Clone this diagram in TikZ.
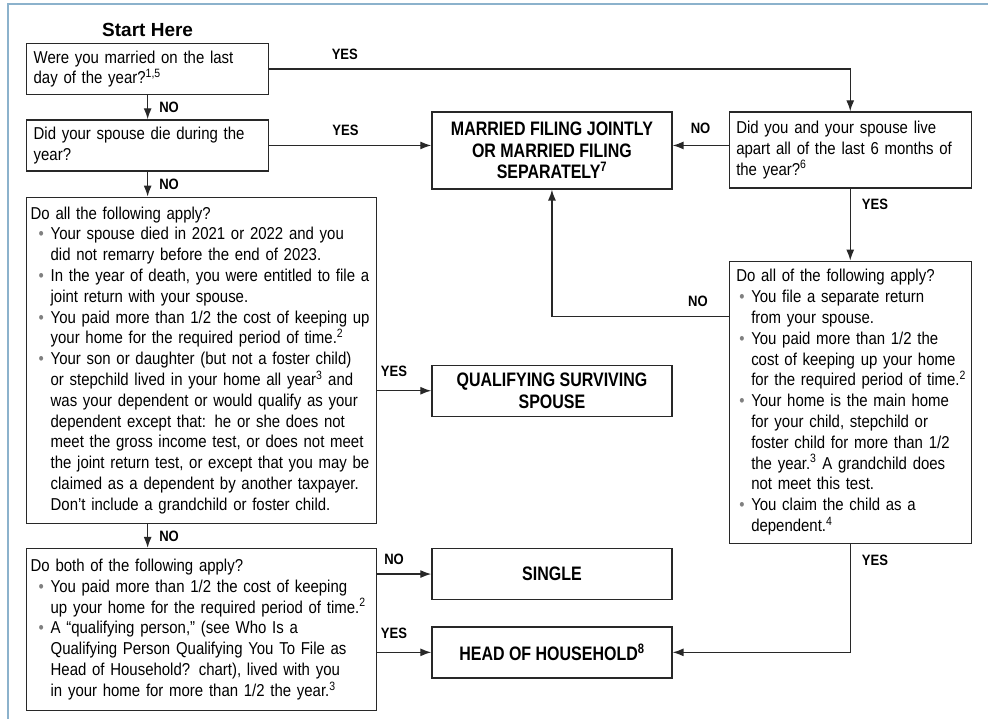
\documentclass[tikz,border=0pt]{standalone}
\usepackage{fontspec}
\setmainfont[FakeStretch=0.87]{Liberation Sans}
\newfontfamily\narrowbf[FakeStretch=0.82]{Liberation Sans}
\newfontfamily\plainbf{Liberation Sans}
\usepackage{tikz}
\usetikzlibrary{arrows.meta, positioning}
\definecolor{framec}{RGB}{140,178,204}
\definecolor{ink}{RGB}{40,40,40}
\newcommand{\bul}{\par\hangindent=20pt\hangafter=1\makebox[20pt][l]{\hspace{8pt}{\color{black!50}\textbullet}}}
\tikzset{
  qbox/.style  ={rectangle, draw=ink, line width=1.3pt, align=left, inner xsep=4pt, inner ysep=3pt, font=\fontsize{17.2}{20.8}\selectfont},
  outbox/.style={rectangle, draw=ink, line width=1.3pt, align=center, minimum width=240pt, font=\narrowbf\bfseries\fontsize{19.5}{21.5}\selectfont},
  fl/.style    ={draw=ink, line width=1.3pt, -{Latex[length=11pt, width=8pt]}},
  lbl/.style   ={font=\bfseries\fontsize{15}{15}\selectfont, inner sep=1pt},
}
\begin{document}
\begin{tikzpicture}[x=1pt, y=1pt]
  \useasboundingbox (0,0) rectangle (988,-719);
  \draw[framec, line width=2pt] (8,-719) -- (8,-4) -- (988,-4);

  % left column
  \node[qbox, anchor=north west, text width=234pt, minimum height=51pt] (q1) at (26,-43)
    {\hspace*{3pt}Were you married on the last\newline \hspace*{3pt}day of the year?\textsuperscript{1,5}};
  \node[font=\plainbf\bfseries\fontsize{19}{19}\selectfont, inner sep=1pt, above=5pt of q1] (start) {Start Here};
  \node[qbox, below=24pt of q1.south west, anchor=north west, text width=234pt, minimum height=51pt] (q2)
    {\hspace*{3pt}Did your spouse die during the\newline \hspace*{3pt}year?};
  \node[qbox, below=25pt of q2.south west, anchor=north west, text width=342pt, minimum height=326pt] (q3)
    {Do all the following apply?
     \bul Your spouse died in 2021 or 2022 and you\newline did not remarry before the end of 2023.
     \bul In the year of death, you were entitled to file a\newline joint return with your spouse.
     \bul You paid more than 1/2 the cost of keeping up\newline your home for the required period of time.\textsuperscript{2}
     \bul Your son or daughter (but not a foster child)\newline or stepchild lived in your home all year\textsuperscript{3} and\newline was your dependent or would qualify as your\newline dependent except that: he or she does not\newline meet the gross income test, or does not meet\newline the joint return test, or except that you may be\newline claimed as a dependent by another taxpayer.\newline Don't include a grandchild or foster child.\par};
  \node[qbox, below=24pt of q3.south west, anchor=north west, text width=342pt, minimum height=162pt] (q4)
    {Do both of the following apply?
     \bul You paid more than 1/2 the cost of keeping\newline up your home for the required period of time.\textsuperscript{2}
     \bul A “qualifying person,” (see Who Is a\newline Qualifying Person Qualifying You To File as\newline Head of Household? chart), lived with you\newline in your home for more than 1/2 the year.\textsuperscript{3}\par};

  % results
  \node[outbox, right=162pt of q2.north east, anchor=north west, yshift=8pt, minimum height=77pt] (mfj)
    {MARRIED FILING JOINTLY\\OR MARRIED FILING\\SEPARATELY\textsuperscript{7}};
  \node[outbox, below=175pt of mfj.south west, anchor=north west, minimum height=51pt] (qss)
    {QUALIFYING SURVIVING\\SPOUSE};
  \node[outbox, right=54pt of q4.north east, anchor=north west, minimum height=51pt] (single) {SINGLE};
  \node[outbox, below=26pt of single.south west, anchor=north west, minimum height=51pt] (hoh)
    {HEAD OF HOUSEHOLD\textsuperscript{8}};

  % right column
  \node[qbox, right=56pt of mfj.north east, anchor=north west, text width=234pt, minimum height=76pt] (q5)
    {\hspace*{3pt}Did you and your spouse live\newline \hspace*{3pt}apart all of the last 6 months of\newline \hspace*{3pt}the year?\textsuperscript{6}};
  \node[qbox, below=72pt of q5.south west, anchor=north west, inner xsep=2pt, text width=238pt, minimum height=282pt] (q6)
    {\hspace*{5pt}Do all of the following apply?
     \bul You file a separate return\newline from your spouse.
     \bul You paid more than 1/2 the\newline cost of keeping up your home\newline for the required period of time.\textsuperscript{2}
     \bul Your home is the main home\newline for your child, stepchild or\newline foster child for more than 1/2\newline the year.\textsuperscript{3} A grandchild does\newline not meet this test.
     \bul You claim the child as a\newline dependent.\textsuperscript{4}\par};

  \draw[fl] (q1.south) -- node[lbl, right=10pt]{NO} (q2.north);
  \draw[fl] (q2.south) -- node[lbl, right=10pt]{NO} (q2.south |- q3.north);
  \draw[fl] (q2.south |- q3.south) -- node[lbl, right=10pt]{NO} (q2.south |- q4.north);
  \draw[fl] (q1.east) -| node[lbl, pos=0.065, above=8pt]{YES} (q5.north);
  \draw[fl] (q2.east) -- node[lbl, pos=0.47, above=8pt]{YES} (mfj.west |- q2.east);
  \draw[fl] (q5.west |- q2.east) -- node[lbl, above=10pt]{NO} (mfj.east |- q2.east);
  \draw[fl] (q5.south) -- node[lbl, pos=0.22, right=10pt]{YES} (q6.north);
  \draw[fl] ([yshift=-56pt]q6.north west) -| node[lbl, pos=0.087, above=8pt]{NO} (mfj.south);
  \draw[fl] (q6.south) |- node[lbl, pos=0.075, right=10pt]{YES} (hoh.east);
  \draw[fl] (q3.east |- qss.west) -- node[lbl, pos=0.31, above=12pt]{YES} (qss.west);
  \draw[fl] (q4.east |- single.west) -- node[lbl, pos=0.31, above=8pt]{NO} (single.west);
  \draw[fl] (q4.east |- hoh.west) -- node[lbl, pos=0.31, above=12pt]{YES} (hoh.west);
\end{tikzpicture}
\end{document}
